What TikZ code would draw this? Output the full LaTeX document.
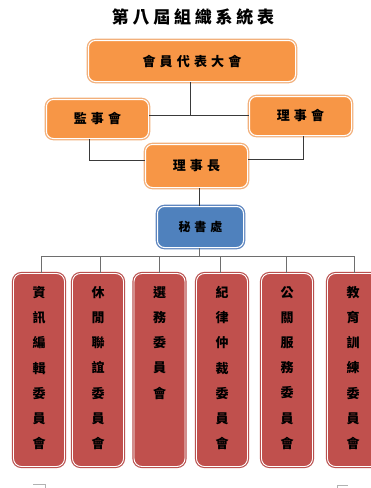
\documentclass[tikz,border=0pt]{standalone}
\usepackage{fontspec}
\newfontfamily\cjk{Noto Sans CJK TC}
\newfontfamily\cjkw[LetterSpace=32]{Noto Sans CJK TC}
\newfontfamily\cjkt[LetterSpace=22]{Noto Sans CJK TC}
\definecolor{orgfill}{HTML}{F79646}
\definecolor{orgring}{HTML}{F2B07C}
\definecolor{bluefill}{HTML}{4F81BD}
\definecolor{bluering}{HTML}{5F86BF}
\definecolor{redfill}{HTML}{C0504D}
\definecolor{redring}{HTML}{B9514F}
\definecolor{linedark}{HTML}{3A3A3A}
\definecolor{linegray}{HTML}{6E6E6E}
\tikzset{
  orgbox/.style={rounded corners=7pt, fill=orgfill, draw=white, line width=1pt,
    preaction={draw=orgring, line width=3.6pt}, inner sep=0pt,
    font=\cjkw\bfseries\fontsize{13}{13}\selectfont},
  bluebox/.style={rounded corners=7pt, fill=bluefill, draw=white, line width=1pt,
    preaction={draw=bluering, line width=3.6pt}, inner sep=0pt,
    font=\cjkw\bfseries\fontsize{12}{12}\selectfont},
  redbox/.style={rounded corners=8pt, fill=redfill, draw=white, line width=0.9pt,
    preaction={draw=redring, line width=3.2pt}, inner sep=0pt,
    minimum width=51pt, minimum height=193pt},
  vtext/.style={anchor=north, inner sep=0pt, align=center,
    font=\cjk\bfseries\fontsize{13}{25.2}\selectfont},
  conn/.style={draw=linedark, line width=0.9pt},
  busline/.style={draw=linegray, line width=0.9pt},
  cornermark/.style={draw=gray!60, line width=0.6pt}
}
\begin{document}
\begin{tikzpicture}[x=1pt,y=-1pt]
\fill[white] (0,0) rectangle (371,488);
\useasboundingbox (0,0) rectangle (371,488);
\clip (0,0) rectangle (371,488);

\node[inner sep=0pt, font=\cjkt\bfseries\fontsize{17}{17}\selectfont] (title) at (193,17) {第八屆組織系統表};

\node[orgbox, minimum width=207pt, minimum height=41pt] (gm) at (192,61) {會員代表大會};
\node[orgbox, minimum width=102pt, minimum height=39pt] (sup) at (97.5,119) {監事會};
\node[orgbox, minimum width=102pt, minimum height=39pt] (board) at (300.5,116) {理事會};
\node[orgbox, minimum width=102pt, minimum height=43pt] (chair) at (196.5,166) {理事長};
\node[bluebox, minimum width=86pt, minimum height=41pt] (sec) at (200.5,227) {秘書處};

\node[redbox] (c1) at (39,370) {};
\node[redbox] (c2) at (98,370) {};
\node[redbox] (c3) at (159.5,370) {};
\node[redbox] (c4) at (222,370) {};
\node[redbox] (c5) at (287,370) {};
\node[redbox] (c6) at (353,370) {};

\node[vtext] (t1) at (39,286) {資\\訊\\編\\輯\\委\\員\\會};
\node[vtext] (t2) at (98,286) {休\\閒\\聯\\誼\\委\\員\\會};
\node[vtext] (t3) at (159.5,286) {選\\務\\委\\員\\會};
\node[vtext] (t4) at (222,286) {紀\\律\\仲\\裁\\委\\員\\會};
\node[vtext] (t5) at (287,286) {公\\關\\服\\務\\委\\員\\會};
\node[vtext] (t6) at (353,286) {教\\育\\訓\\練\\委\\員\\會};

% top connectors
\coordinate (j) at (190,115);
\draw[conn] (gm.south -| j) -- (j);
\draw[conn] (sup.east |- j) -- (board.west |- j);
\coordinate (ja) at (89,160);
\coordinate (jb) at (303,159);
\draw[conn] (sup.south -| ja) -- (ja) -- (chair.west |- ja);
\draw[conn] (board.south -| jb) -- (jb) -- (chair.east |- jb);
\draw[conn] (sec.north -| 199,0) -- (chair.south -| 199,0);

% bus
\coordinate (bus) at (199,256);
\draw[busline] (sec.south -| bus) -- (bus);
\draw[busline] (41,256) -- (354,256);
\foreach \n/\x in {c1/41,c2/100,c3/159,c4/220,c5/286,c6/354}{
  \draw[busline] (\n.north -| \x,0) -- (\x,256);
}

% page corner marks
\draw[cornermark] (33,484) -- (45,484) -- (45,488);
\draw[cornermark] (337,488) -- (337,485) -- (348,485);
\end{tikzpicture}
\end{document}
